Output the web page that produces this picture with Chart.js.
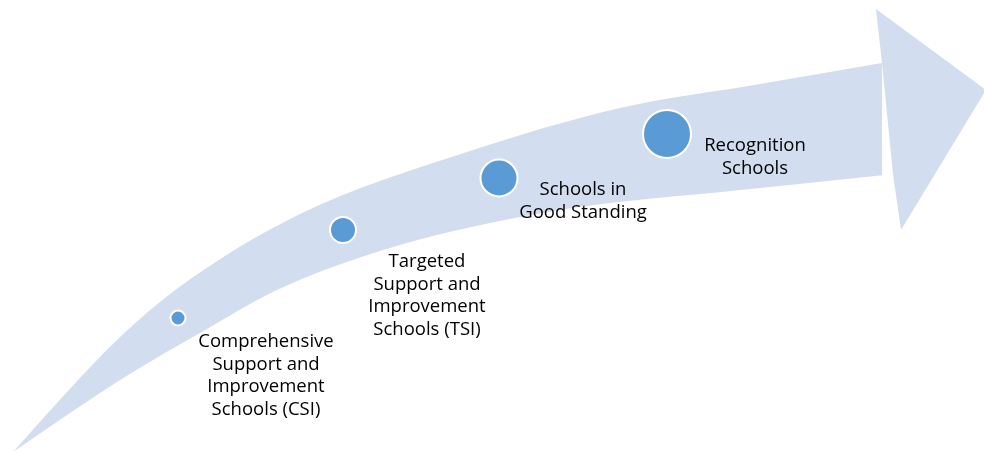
<!DOCTYPE html>
<html>
<head>
<meta charset="utf-8">
<script src="https://cdn.jsdelivr.net/npm/chart.js@4.4.1/dist/chart.umd.min.js"></script>
<style>
    html, body { margin: 0; padding: 0; background: #ffffff; }
    canvas { display: block; }
</style>
</head>
<body>
<canvas id="chart" width="984" height="453"></canvas>
<script>
// stages along the arrow, lowest to highest
const stageLabels = [
    ['Comprehensive', 'Support and', 'Improvement', 'Schools (CSI)'],
    ['Targeted', 'Support and', 'Improvement', 'Schools (TSI)'],
    ['Schools in', 'Good Standing'],
    ['Recognition', 'Schools']
];
const stageX = [178, 343, 499, 667];
const stageY = [318, 230, 178, 134];
const stageLevel = [1, 2, 3, 4];

// curved arrow body: top edge and bottom edge, both from the tail to the head
const arrowUpperX = [13, 67, 117, 178, 300, 467, 620, 760, 882];
const arrowUpperY = [452, 392, 340, 288, 214, 152, 108, 84, 63];
const arrowLowerX = [13, 67, 133, 200, 277, 383, 467, 573, 740, 893];
const arrowLowerY = [452, 415, 372, 333, 290, 250, 228, 208, 190, 174];

// arrow head
const arrowHeadX = [882, 876, 986, 901, 893];
const arrowHeadY = [63, 9, 90, 230, 174];

const arrowColor = '#D2DEEF';
const dotColor = '#5B9BD5';

function toPoints(xs, ys) {
    return xs.map((x, i) => ({x: x, y: ys[i]}));
}

const stageLabelPlugin = {
    id: 'stageLabels',
    afterDatasetsDraw(chart, args, opts) {
        const meta = chart.getDatasetMeta(0);
        const ctx = chart.ctx;
        ctx.save();
        ctx.font = opts.font;
        ctx.fillStyle = opts.color;
        ctx.textAlign = 'center';
        ctx.textBaseline = 'middle';
        meta.data.forEach((el, i) => {
            stageLabels[i].forEach((line, j) => {
                ctx.fillText(line, el.x + opts.dx[i], el.y + opts.dy[i] + j * opts.lineHeight);
            });
        });
        ctx.restore();
    }
};

const edgeLine = {
    type: 'line',
    cubicInterpolationMode: 'monotone',
    backgroundColor: arrowColor,
    borderWidth: 0,
    pointRadius: 0
};

const chart = new Chart(document.getElementById('chart'), {
    type: 'scatter',
    data: {
        datasets: [
            {
                type: 'bubble',
                order: 0,
                data: stageX.map((x, i) => ({x: x, y: stageY[i], r: 2 + 5.5 * stageLevel[i]})),
                backgroundColor: dotColor,
                borderColor: '#ffffff',
                borderWidth: 2
            },
            Object.assign({}, edgeLine, {order: 1, data: toPoints(arrowUpperX, arrowUpperY), fill: '+1'}),
            Object.assign({}, edgeLine, {order: 2, data: toPoints(arrowLowerX, arrowLowerY), fill: false}),
            {
                type: 'line',
                order: 3,
                data: toPoints(arrowHeadX, arrowHeadY),
                fill: 'shape',
                tension: 0,
                backgroundColor: arrowColor,
                borderWidth: 0,
                pointRadius: 0
            }
        ]
    },
    options: {
        responsive: false,
        animation: false,
        events: [],
        layout: {padding: 0, autoPadding: false},
        scales: {
            x: {type: 'linear', min: 0, max: 984, display: false},
            y: {type: 'linear', min: 0, max: 453, reverse: true, display: false}
        },
        plugins: {
            legend: {display: false},
            tooltip: {enabled: false},
            stageLabels: {
                font: '18.5px "Open Sans"',
                color: '#000000',
                lineHeight: 22.5,
                dx: [88, 84, 84, 88],
                dy: [24, 32, 12, 12]
            }
        }
    },
    plugins: [stageLabelPlugin]
});
</script>
</body>
</html>
